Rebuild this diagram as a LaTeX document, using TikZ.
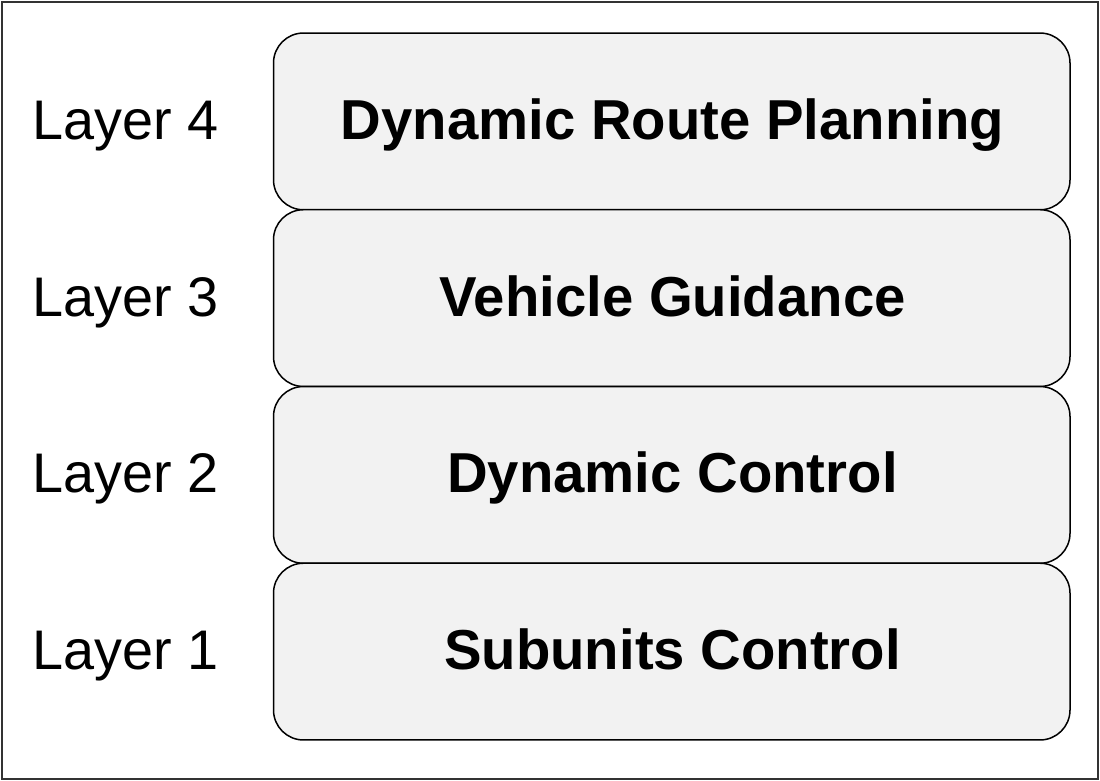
\documentclass[tikz,border=0pt]{standalone}
\usepackage{fontspec}
\setmainfont{Liberation Sans}
\definecolor{boxgray}{HTML}{F2F2F2}
\definecolor{framegray}{HTML}{333333}
\begin{document}
\begin{tikzpicture}[x=1pt,y=-1pt,
  layerbox/.style={draw=black, line width=1.5pt, fill=boxgray, rounded corners=30pt,
    minimum width=796.5pt, minimum height=176.75pt, inner sep=0pt},
  boxtext/.style={font=\bfseries\fontsize{56.3}{60}\selectfont, inner sep=0pt, anchor=base},
  lab/.style={font=\fontsize{55.8}{60}\selectfont, inner sep=0pt, anchor=base west}]
\useasboundingbox (0,0) rectangle (1100,781);
\node[draw=framegray, line width=2pt, minimum width=1096pt, minimum height=777pt, inner sep=0pt] (frame) at (550,390.5) {};
\node[layerbox] (b4) at (671.75,121.4) {};
\node[layerbox] (b3) at (671.75,298.1) {};
\node[layerbox] (b2) at (671.75,474.9) {};
\node[layerbox] (b1) at (671.75,651.6) {};
\node[boxtext] (t4) at (672.5,139.3) {Dynamic Route Planning};
\node[boxtext] (t3) at (672.5,316) {Vehicle Guidance};
\node[boxtext] (t2) at (672.5,492.8) {Dynamic Control};
\node[boxtext] (t1) at (672.5,669.5) {Subunits Control};
\node[lab] (l4) at (32,139.3) {Layer 4};
\node[lab] (l3) at (32,316) {Layer 3};
\node[lab] (l2) at (32,492.8) {Layer 2};
\node[lab] (l1) at (32,669.5) {Layer 1};
\end{tikzpicture}
\end{document}
